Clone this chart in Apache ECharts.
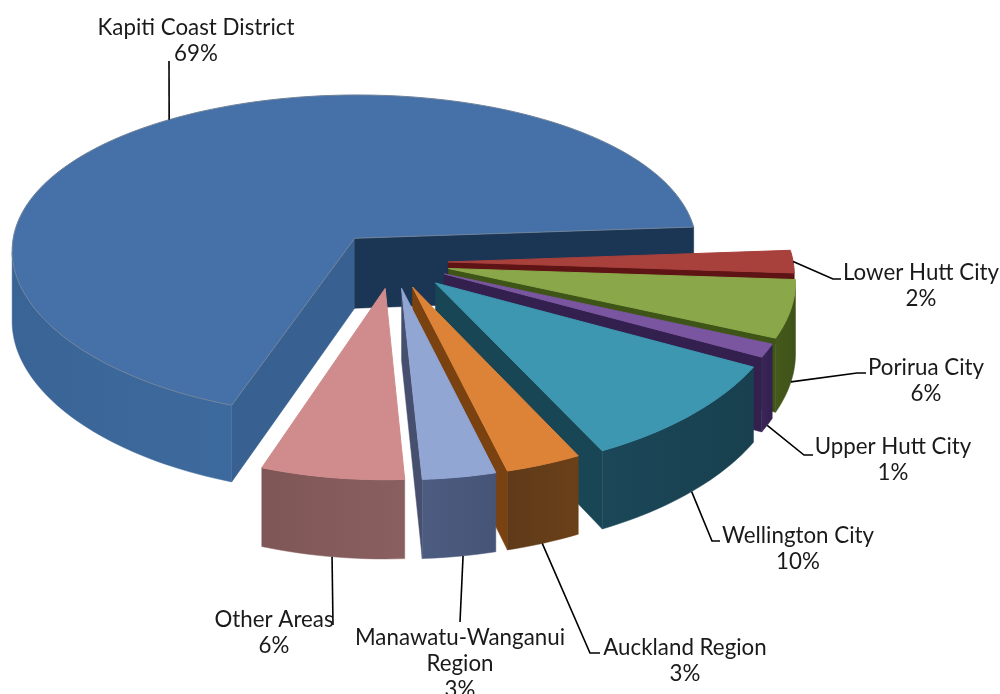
<!DOCTYPE html>
<html>
<head>
<meta charset="utf-8">
<style>
  html, body { margin: 0; background: #fff; }
  #main { width: 1000px; height: 694px; }
</style>
<script src="https://cdn.jsdelivr.net/npm/echarts@6/dist/echarts.min.js"></script>
</head>
<body>
<div id="main"></div>
<script>
// slices, clockwise, first one is also the backmost one so it is painted first
const names = ['Kapiti Coast District', 'Lower Hutt City', 'Porirua City', 'Upper Hutt City',
  'Wellington City', 'Auckland Region', 'Manawatu-Wanganui\nRegion', 'Other Areas'];
const percentLabels = ['69%', '2%', '6%', '1%', '10%', '3%', '3%', '6%'];
const values = [68.5, 2.2, 5.53, 1.25, 9.83, 3.28, 3.19, 6.22];

const topColors = ['#4571a8', '#a8403c', '#8aa84a', '#7a55a0', '#3d97b0', '#dd8338', '#92a6d4', '#d08c8c'];
const faceColors = ['#1b3554', '#5e1414', '#3f5518', '#33204f', '#184655', '#7a4210', '#464f6e', '#6f4a4a'];
const wallColors = ['#3a6496', '#6e2a28', '#46591c', '#3a2658', '#1b4758', '#5f3a1a', '#4c5c80', '#7f5656'];
const wallEdgeColors = ['#3d6a9e', '#5e1f1f', '#3f5218', '#33204f', '#18404f', '#6a4018', '#465477', '#8a5f5f'];
const startFaceColor = '#386090';

// how far each slice is pulled out of the pie
const explode = [0.185, 0.16, 0.165, 0.165, 0.175, 0.16, 0.16, 0.16];

// label layout: centre of the text, then the elbow and end of the leader line
const labelAt = [[196, 27], [921, 272], [926, 367], [893, 446], [798, 535], [685, 647], [460, 637], [274, 619]];
const leaderBend = [[169, 61], [833, 279], [857, 373], [804, 455], [712, 541], [590, 653], [460, 622], [333, 625]];
const leaderEnd = [[169, 61], [841, 279], [866, 373], [813, 455], [720, 541], [600, 653], [460, 622], [333, 625]];
// where the leader leaves the slice: share of the arc, and 0 top rim / 1 bottom of the wall
const leaderArc = [0.507, 0.5, 0.5, 0.5, 0.5, 0.52, 0.45, 0.5];
const leaderDepth = [0, 0, 1, 1, 1, 1, 1, 1];

const FIRST_ANGLE = 109.3;
const CX = 393, CY = 262;
const RX = 345, RY = 164, DEPTH = 71;
const PERSP_X = 0.07, PERSP_Y = 0.11, PERSP_Z = 0.1;

const total = values.reduce((a, b) => a + b, 0);

function sliceAngles(i) {
  let start = FIRST_ANGLE;
  for (let k = 0; k < i; k++) start += values[k] / total * 360;
  return [start, start + values[i] / total * 360];
}

// ground plane (u, v) to screen, z is 0 on the top face and 1 at the bottom
function project(u, v, z) {
  return [
    CX + u * RX * (1 + PERSP_X * v),
    CY + v * RY / (1 - PERSP_Y * v) + z * DEPTH * (1 + PERSP_Z * v)
  ];
}

function rimPoint(i, deg, r, z) {
  const [a0, a1] = sliceAngles(i);
  const mid = (a0 + a1) / 2 * Math.PI / 180;
  const t = deg * Math.PI / 180;
  return project(Math.cos(t) * r + Math.cos(mid) * explode[i], Math.sin(t) * r + Math.sin(mid) * explode[i], z);
}

function poly(points, fill, stroke) {
  return {
    type: 'polygon',
    shape: { points: points },
    style: { fill: fill, stroke: stroke || fill, lineWidth: stroke ? 1 : 0.5 },
    silent: true
  };
}

function cutFace(i, deg, inner, color) {
  const a = rimPoint(i, deg, 0, 0), b = rimPoint(i, deg, 1, 0);
  const cross = (b[0] - a[0]) * (inner[1] - a[1]) - (b[1] - a[1]) * (inner[0] - a[0]);
  if ((b[0] - a[0]) * cross >= 0) return null;
  return poly([a, b, rimPoint(i, deg, 1, 1), rimPoint(i, deg, 0, 1)], color);
}

function renderSlice(params, api) {
  const i = api.value(0);
  const [a0, a1] = sliceAngles(i);
  const steps = Math.max(6, Math.ceil((a1 - a0) / 1.5));
  const rim = [];
  for (let s = 0; s <= steps; s++) rim.push(a0 + (a1 - a0) * s / steps);

  const inner = rimPoint(i, (a0 + a1) / 2, 0.7, 0);
  const children = [];
  const f0 = cutFace(i, a0, inner, i === 0 ? startFaceColor : faceColors[i]);
  const f1 = cutFace(i, a1, inner, faceColors[i]);
  if (f0) children.push(f0);
  if (f1) children.push(f1);

  // outer wall, only where the rim runs right to left on screen
  const wallTop = [], wallBottom = [];
  rim.forEach((d, s) => {
    const p = rimPoint(i, d, 1, 0);
    const prev = rimPoint(i, rim[Math.max(s - 1, 0)], 1, 0);
    const next = rimPoint(i, rim[Math.min(s + 1, steps)], 1, 0);
    if (next[0] < p[0] || prev[0] > p[0]) {
      wallTop.push(p);
      wallBottom.unshift(rimPoint(i, d, 1, 1));
    }
  });
  if (wallTop.length > 1) {
    const xs = wallTop.map((p) => p[0]);
    children.push(poly(wallTop.concat(wallBottom), {
      type: 'linear', global: true,
      x: Math.min(...xs), y: 0, x2: Math.max(...xs), y2: 0,
      colorStops: [
        { offset: 0, color: wallColors[i] },
        { offset: 1, color: wallEdgeColors[i] }
      ]
    }));
  }

  const topFace = [rimPoint(i, a0, 0, 0)].concat(rim.map((d) => rimPoint(i, d, 1, 0)));
  children.push(poly(topFace, topColors[i], i === 0 ? '#6f8299' : topColors[i]));
  return { type: 'group', children: children };
}

function renderLabel(params, api) {
  const i = api.value(0);
  const [a0, a1] = sliceAngles(i);
  const from = rimPoint(i, a0 + (a1 - a0) * leaderArc[i], 1, leaderDepth[i]);
  const lines = (names[i] + '\n' + percentLabels[i]).split('\n');
  const children = [{
    type: 'polyline',
    shape: { points: [from, leaderBend[i], leaderEnd[i]] },
    style: { stroke: '#000', lineWidth: 1.6, fill: 'none' },
    silent: true
  }];
  lines.forEach((line, n) => {
    children.push({
      type: 'text',
      x: labelAt[i][0],
      y: labelAt[i][1] + n * 26,
      scaleX: 0.93,
      style: {
        text: line,
        x: 0, y: 0,
        align: 'center', verticalAlign: 'middle',
        fill: '#1a1a1a',
        font: '24px Lato, sans-serif'
      },
      silent: true
    });
  });
  return { type: 'group', children: children };
}

const chart = echarts.init(document.getElementById('main'));
const rows = names.map((name, i) => [i, values[i], name]);
chart.setOption({
  backgroundColor: '#fff',
  animation: false,
  series: [
    { type: 'custom', coordinateSystem: 'none', data: rows, renderItem: renderSlice, z: 2, silent: true },
    { type: 'custom', coordinateSystem: 'none', data: rows, renderItem: renderLabel, z: 3, silent: true }
  ]
});
</script>
</body>
</html>
